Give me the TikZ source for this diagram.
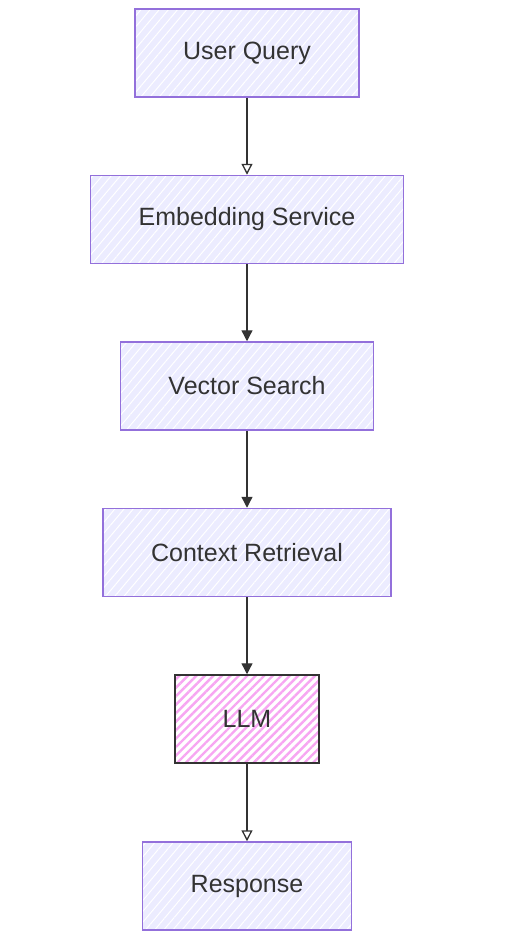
\documentclass[tikz,border=0pt]{standalone}
\usepackage{fontspec}
\setmainfont{Liberation Sans}
\usetikzlibrary{positioning, arrows.meta, patterns.meta}

\definecolor{boxfill}{HTML}{ECECFF}
\definecolor{boxline}{HTML}{9370DB}
\definecolor{llmhatch}{HTML}{F7A6F2}
\definecolor{ink}{HTML}{333333}

\begin{document}
\begin{tikzpicture}[
        x=1pt, y=1pt,
        >={Triangle[length=11pt, width=11pt]},
        node distance=77pt,
        every node/.style={font=\fontsize{25}{28}\selectfont, text=ink},
        stepbox/.style={draw=boxline, line width=1.5pt,
            preaction={fill=boxfill},
            preaction={pattern={Lines[angle=50, distance=7pt, line width=1pt]}, pattern color=white},
            minimum height=88pt, inner xsep=48pt},
        llmbox/.style={draw=ink, line width=2pt,
            preaction={fill=white},
            preaction={pattern={Lines[angle=45, distance=6pt, line width=2.4pt]}, pattern color=llmhatch},
            minimum height=88pt, inner xsep=48pt},
        flow/.style={->, draw=ink, line width=1.3pt},
        openflow/.style={flow, -{Triangle[open, length=11pt, width=11pt]}}
    ]
        \useasboundingbox (0,0) rectangle (523,-940);

        \node[stepbox] (query) at (247,-53) {User Query};
        \node[stepbox, below=of query] (embed) {Embedding Service};
        \node[stepbox, below=of embed] (search) {Vector Search};
        \node[stepbox, below=of search] (context) {Context Retrieval};
        \node[llmbox, below=of context] (llm) {LLM};
        \node[stepbox, below=of llm] (response) {Response};

        \draw[openflow] (query) -- (embed);
        \draw[flow] (embed) -- (search);
        \draw[flow] (search) -- (context);
        \draw[flow] (context) -- (llm);
        \draw[openflow] (llm) -- (response);
\end{tikzpicture}
\end{document}
